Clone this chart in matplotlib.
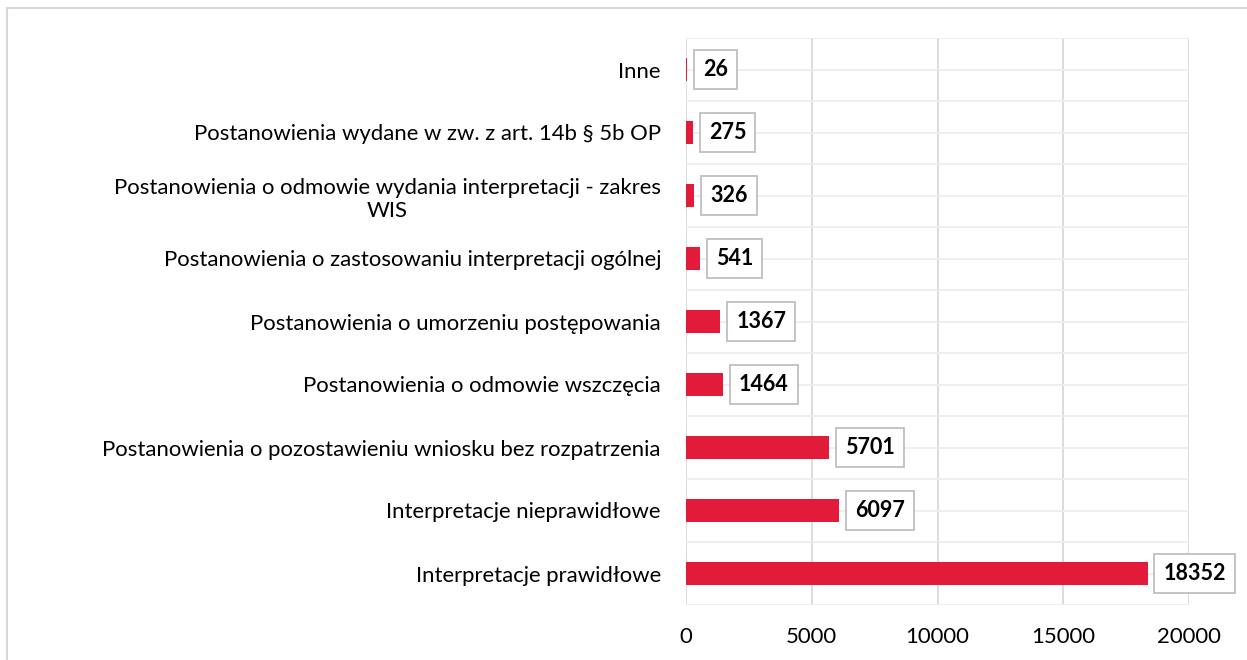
import matplotlib.pyplot as plt
from matplotlib.patches import Rectangle

categories = [
    "Interpretacje prawidłowe",
    "Interpretacje nieprawidłowe",
    "Postanowienia o pozostawieniu wniosku bez rozpatrzenia",
    "Postanowienia o odmowie wszczęcia",
    "Postanowienia o umorzeniu postępowania",
    "Postanowienia o zastosowaniu interpretacji ogólnej",
    "Postanowienia o odmowie wydania interpretacji - zakres\nWIS",
    "Postanowienia wydane w zw. z art. 14b § 5b OP",
    "Inne",
]
values = [18352, 6097, 5701, 1464, 1367, 541, 326, 275, 26]
xticks = [0, 5000, 10000, 15000, 20000]

plt.rcParams['font.family'] = ['Lato', 'DejaVu Sans']

fig = plt.figure(figsize=(12.47, 6.6), dpi=100)
ax = fig.add_axes([686 / 1247, 1 - 605 / 660, 503 / 1247, 567 / 660])

# outer chart border (runs off the right/bottom edge like the source)
fig.patches.append(Rectangle((7 / 1247, -0.1), 1.2, 1 - 8 / 660 + 0.1,
                             transform=fig.transFigure, fill=False,
                             edgecolor='#D9D9D9', linewidth=1.5))

ypos = list(range(len(categories)))
ax.barh(ypos, values, height=0.35, color='#E31B3B', zorder=3)

# gridlines: vertical at ticks, horizontal at every half category
for x in xticks:
    ax.axvline(x, color='#D9D9D9', linewidth=1.3, zorder=1)
for i in range(2 * len(categories) + 1):
    ax.axhline(-0.5 + i * 0.5, color='#EDEDED', linewidth=1.3, zorder=1)

for y, v in zip(ypos, values):
    ax.annotate(str(v), xy=(v, y), xytext=(11.5, 0), textcoords='offset points',
                ha='left', va='center', fontsize=15.5, fontweight='bold',
                bbox=dict(boxstyle='square,pad=0.42', facecolor='white',
                          edgecolor='#BFBFBF', linewidth=1.3), zorder=4)

ax.set_xlim(0, 20000)
ax.set_ylim(-0.5, len(categories) - 0.5)
ax.set_xticks(xticks)
ax.set_xticklabels([str(x) for x in xticks])
ax.set_yticks(ypos)
ax.set_yticklabels(categories, multialignment='center')
ax.tick_params(axis='both', length=0, labelsize=15.9, colors='#000000')
ax.tick_params(axis='x', pad=16)
ax.tick_params(axis='y', pad=18)
for s in ax.spines.values():
    s.set_visible(False)

fig.savefig('out.png', dpi=100)
